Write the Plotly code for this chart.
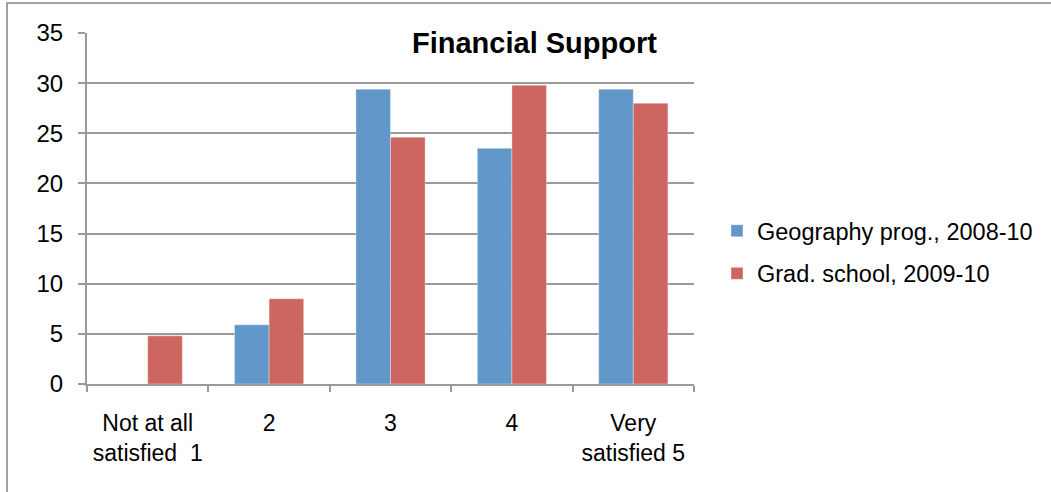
import plotly.graph_objects as go

# Survey responses (% of respondents) on satisfaction with financial support
categories = ["Not at all<br>satisfied&nbsp; 1", "2", "3", "4", "Very<br>satisfied 5"]
geography_prog = [0, 5.9, 29.4, 23.5, 29.4]
grad_school = [4.8, 8.5, 24.6, 29.8, 28.0]
y_ticks = [0, 5, 10, 15, 20, 25, 30, 35]

BLUE = "#6197C9"
RED = "#CD6660"
GRID = "#9A9A9A"
FONT = "Liberation Sans, Arial, sans-serif"

W, H = 1051, 492
L, R, T, B = 87, 357, 33, 108
pw, ph = W - L - R, H - T - B


def px_x(x):
    return (x - L) / pw


def px_y(y):
    return (H - B - y) / ph


fig = go.Figure()
fig.add_trace(go.Bar(
    x=categories, y=geography_prog, name="Geography prog., 2008-10",
    marker=dict(color=BLUE, line=dict(color="rgba(255,255,255,0.35)", width=1)),
    legendgroup="g1",
))
fig.add_trace(go.Bar(
    x=categories, y=grad_school, name="Grad. school, 2009-10",
    marker=dict(color=RED, line=dict(color="rgba(255,255,255,0.35)", width=1)),
    legendgroup="g2",
))

fig.update_layout(
    width=W, height=H,
    margin=dict(l=L, r=R, t=T, b=B, pad=0),
    paper_bgcolor="white", plot_bgcolor="white",
    font=dict(family=FONT, size=23, color="black"),
    barmode="group", bargap=0.43, bargroupgap=0,
    showlegend=True,
    legend=dict(
        x=px_x(717), xanchor="left",
        y=px_y(209), yanchor="top",
        font=dict(size=23.5, color="black"),
        tracegroupgap=9,
        itemwidth=30,
        bgcolor="rgba(0,0,0,0)",
    ),
    xaxis=dict(
        type="category",
        showline=True, linecolor=GRID, linewidth=2,
        ticks="outside", tickson="boundaries", ticklen=6, tickwidth=2, tickcolor=GRID,
        showgrid=False,
        tickfont=dict(size=23, color="black"),
        ticklabelstandoff=17,
    ),
    yaxis=dict(
        range=[0, 35], tickvals=y_ticks,
        showline=True, linecolor=GRID, linewidth=2,
        ticks="outside", ticklen=7, tickwidth=2, tickcolor=GRID,
        showgrid=True, gridcolor=GRID, gridwidth=2,
        zeroline=False,
        tickfont=dict(size=24, color="black"),
        ticklabelstandoff=10,
    ),
    annotations=[dict(
        text="<b>Financial Support</b>",
        x=px_x(534), y=px_y(43), xref="paper", yref="paper",
        xanchor="center", yanchor="middle", showarrow=False,
        font=dict(size=29, color="black", family=FONT),
    )],
    shapes=[dict(
        type="rect", xref="paper", yref="paper",
        x0=px_x(7), x1=px_x(1120), y0=px_y(3), y1=px_y(520),
        line=dict(color="#A0A0A0", width=2), fillcolor="rgba(0,0,0,0)",
        layer="below",
    )],
)

fig.write_html("out.html")
